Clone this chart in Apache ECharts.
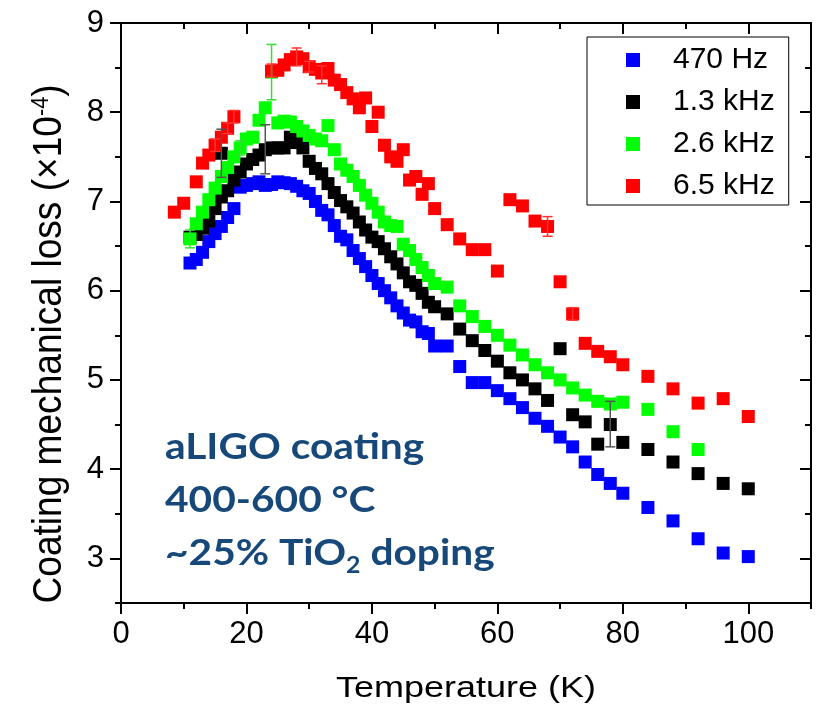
<!DOCTYPE html>
<html>
<head>
<meta charset="utf-8">
<script src="https://cdn.jsdelivr.net/npm/echarts@6/dist/echarts.min.js"></script>
<style>
html,body{margin:0;padding:0;background:#fff;}
#chart{width:816px;height:705px;}
</style>
</head>
<body>
<div id="chart"></div>
<script>
// ---- data (Temperature in K, loss in 1e-4) ----
const seriesNames = ['470 Hz', '1.3 kHz', '2.6 kHz', '6.5 kHz'];
const seriesColors = ['#0000ff', '#000000', '#00ff00', '#ff0000'];

const blueT = [11,12,13,14,15,16,17,18,19,20,21,22,23,24,25,26,27,28,29,30,31,32,33,34,35,36,37,38,39,40,41,42,43,44,45,46,47,48,49,50,52,54,56,58,60,62,64,66,68,70,72,74,76,78,80,84,88,92,96,100];
const blueV = [6.31,6.35,6.43,6.55,6.64,6.72,6.82,6.92,7.16,7.18,7.2,7.22,7.18,7.19,7.22,7.21,7.2,7.17,7.12,7.09,7.0,6.9,6.85,6.73,6.61,6.57,6.45,6.36,6.27,6.17,6.08,6.0,5.92,5.83,5.75,5.67,5.65,5.54,5.52,5.38,5.38,5.15,4.97,4.97,4.88,4.79,4.69,4.57,4.48,4.36,4.25,4.08,3.94,3.84,3.73,3.57,3.42,3.22,3.06,3.02];

const blackT = [11,12,13,14,15,16,16,17,18,19,20,21,22,23,24,25,26,27,28,29,30,31,32,33,34,35,36,37,38,39,40,41,42,43,44,45,46,47,48,49,50,52,54,56,58,60,62,64,66,68,70,72,74,76,78,80,84,88,92,96,100];
const blackV = [6.6,6.63,6.7,6.78,6.92,7.05,7.54,7.12,7.24,7.33,7.42,7.47,7.52,7.58,7.6,7.6,7.6,7.72,7.66,7.6,7.45,7.37,7.31,7.2,7.1,7.01,6.94,6.87,6.77,6.68,6.6,6.55,6.47,6.38,6.3,6.2,6.1,6.06,5.97,5.87,5.82,5.74,5.57,5.44,5.33,5.21,5.08,5.0,4.9,4.77,5.35,4.61,4.53,4.28,4.5,4.3,4.22,4.08,3.95,3.84,3.78];

const greenT = [11,12,13,14,15,16,17,18,19,20,21,22,23,24,25,26,27,28,29,30,31,32,33,34,35,36,37,38,39,40,41,42,43,44,45,46,47,48,49,50,52,54,56,58,60,62,64,66,68,70,72,74,76,78,80,84,88,92];
const greenV = [6.58,6.75,6.88,7.02,7.15,7.28,7.38,7.5,7.6,7.7,7.72,7.91,8.05,8.45,7.88,7.9,7.89,7.84,7.79,7.74,7.7,7.68,7.85,7.58,7.42,7.35,7.28,7.18,7.07,6.98,6.88,6.77,6.73,6.72,6.52,6.45,6.35,6.26,6.17,6.08,6.04,5.83,5.71,5.6,5.5,5.39,5.28,5.17,5.08,5.0,4.91,4.83,4.76,4.73,4.75,4.67,4.42,4.22];

const redT = [8.5,10,12,13,14,15,16,17,18,24,25,26,27,28,29,30,31,32,33,34,35,36,37,38,39,40,41,42,43,44,45,46,47,48,49,50,52,54,56,58,60,62,64,66,68,70,72,74,76,78,80,84,88,92,96,100];
const redV = [6.88,6.98,7.22,7.43,7.52,7.63,7.72,7.82,7.95,8.46,8.47,8.53,8.59,8.62,8.6,8.51,8.48,8.44,8.49,8.36,8.31,8.22,8.15,8.05,8.16,7.84,8.0,7.63,7.5,7.45,7.58,7.24,7.28,7.08,7.2,6.92,6.74,6.58,6.46,6.46,6.22,7.02,6.95,6.78,6.72,6.1,5.74,5.41,5.32,5.26,5.17,5.04,4.9,4.74,4.79,4.59];

// error bars: [T, low, high]
const blackErr = [[16,7.27,7.81],[23,7.31,7.86],[78,4.25,4.76]];
const greenErr = [[11,6.48,6.68],[24,8.14,8.76],[19,7.52,7.68]];
const redErr = [[15,7.56,7.7],[17,7.76,7.88],[18,7.88,8.02],[24,8.4,8.54],[28,8.52,8.72],[32,8.32,8.52],[30,8.45,8.57],[68,6.61,6.83],[72,5.67,5.81]];

// axis ticks
const xMajor = [0,20,40,60,80,100];
const xMinor = [10,30,50,70,90,110];
const yMajor = [3,4,5,6,7,8,9];
const yMinor = [2.5,3.5,4.5,5.5,6.5,7.5,8.5];

const FONT = 'Liberation Sans, Arial, sans-serif';
const ANN = 'Lato, sans-serif';
const ANN_COLOR = '#17487a';
const zip = (t, v) => t.map((x, i) => [x, v[i]]);
const scatterData = [zip(blueT, blueV), zip(blackT, blackV), zip(greenT, greenV), zip(redT, redV)];

function errSeries(data, color) {
  return {
    type: 'custom', xAxisIndex: 0, yAxisIndex: 0, z: 3, silent: true,
    data: data,
    encode: {x: 0, y: [1, 2]},
    renderItem: function (params, api) {
      const x = api.value(0), lo = api.value(1), hi = api.value(2);
      const a = api.coord([x, hi]), b = api.coord([x, lo]);
      const w = 5;
      const st = {stroke: color, lineWidth: 1.5};
      return {type: 'group', children: [
        {type: 'line', shape: {x1: a[0], y1: a[1], x2: b[0], y2: b[1]}, style: st},
        {type: 'line', shape: {x1: a[0]-w, y1: a[1], x2: a[0]+w, y2: a[1]}, style: st},
        {type: 'line', shape: {x1: b[0]-w, y1: b[1], x2: b[0]+w, y2: b[1]}, style: st}
      ]};
    }
  };
}

function xAx(pos, ticks, len, inside, labels) {
  return {
    type: 'value', gridIndex: 0, position: pos, min: 0, max: 110,
    axisLine: {show: true, onZero: false, lineStyle: {color: '#000', width: 2}},
    axisTick: {show: true, inside: inside, customValues: ticks, length: len, lineStyle: {color: '#000', width: 2}},
    axisLabel: labels ? {show: true, customValues: ticks, fontSize: 31, color: '#000', fontFamily: FONT, margin: 16} : {show: false},
    splitLine: {show: false}
  };
}
function yAx(pos, ticks, len, inside, labels) {
  return {
    type: 'value', gridIndex: 0, position: pos, min: 2.5, max: 9,
    axisLine: {show: true, onZero: false, lineStyle: {color: '#000', width: 2}},
    axisTick: {show: true, inside: inside, customValues: ticks, length: len, lineStyle: {color: '#000', width: 2}},
    axisLabel: labels ? {show: true, customValues: ticks, fontSize: 31, color: '#000', fontFamily: FONT, margin: 17} : {show: false},
    splitLine: {show: false}
  };
}

const chart = echarts.init(document.getElementById('chart'), null, {renderer: 'canvas'});
const series = [];
for (let i = 0; i < 4; i++) {
  series.push({
    name: seriesNames[i], type: 'scatter', symbol: 'rect', symbolSize: 13,
    xAxisIndex: 0, yAxisIndex: 0, z: 2,
    itemStyle: {color: seriesColors[i], opacity: 1},
    data: scatterData[i]
  });
  if (i === 1) series.push(errSeries(blackErr, '#555555'));
  if (i === 2) series.push(errSeries(greenErr, '#33e033'));
  if (i === 3) series.push(errSeries(redErr, '#ff3333'));
}

chart.setOption({
  animation: false,
  backgroundColor: '#ffffff',
  grid: {left: 121, right: 5, top: 23, bottom: 102, containLabel: false},
  xAxis: [
    xAx('bottom', xMajor, 11, false, true),
    xAx('bottom', xMinor, 6, false, false),
    xAx('top', xMajor, 11, true, false),
    xAx('top', xMinor, 6, true, false)
  ],
  yAxis: [
    yAx('left', yMajor, 11, false, true),
    yAx('left', yMinor, 6, false, false),
    yAx('right', yMajor, 11, true, false),
    yAx('right', yMinor, 6, true, false)
  ],
  legend: {
    left: 587, top: 37, orient: 'vertical', icon: 'rect', itemWidth: 14, itemHeight: 14, itemGap: 12,
    borderColor: '#000', borderWidth: 1, padding: [8, 14, 4, 39], backgroundColor: '#fff',
    textStyle: {fontSize: 30, lineHeight: 28, color: '#000', fontFamily: FONT, padding: [0, 0, 0, 28]},
    data: seriesNames
  },
  graphic: [
    {type: 'text', x: 466, y: 689, scaleX: 1.2,
      style: {text: 'Temperature (K)', fill: '#000', font: '30px ' + FONT, align: 'center', verticalAlign: 'middle'}},
    {type: 'text', x: 50, y: 344, rotation: Math.PI / 2, scaleX: 1.03, scaleY: 1.15,
      style: {text: 'Coating mechanical loss (×10{s|-4})', fill: '#000', font: '36px ' + FONT,
        align: 'center', verticalAlign: 'middle',
        rich: {s: {fontSize: 21, fontFamily: FONT, verticalAlign: 'top', lineHeight: 36, fill: '#000'}}}},
    {type: 'text', x: 165, y: 447, scaleX: 1.13,
      style: {text: 'aLIGO coating', fill: ANN_COLOR, font: 'bold 36px ' + ANN, align: 'left', verticalAlign: 'middle'}},
    {type: 'text', x: 165, y: 500, scaleX: 1.13,
      style: {text: '400-600 °C', fill: ANN_COLOR, font: 'bold 36px ' + ANN, align: 'left', verticalAlign: 'middle'}},
    {type: 'text', x: 165, y: 553, scaleX: 1.13,
      style: {text: '~25% TiO{b|2} doping', fill: ANN_COLOR, font: 'bold 36px ' + ANN, align: 'left', verticalAlign: 'middle',
        rich: {b: {fontSize: 22, fontWeight: 'bold', fontFamily: ANN, verticalAlign: 'bottom', lineHeight: 48, fill: ANN_COLOR}}}}
  ],
  series: series
});
</script>
</body>
</html>
